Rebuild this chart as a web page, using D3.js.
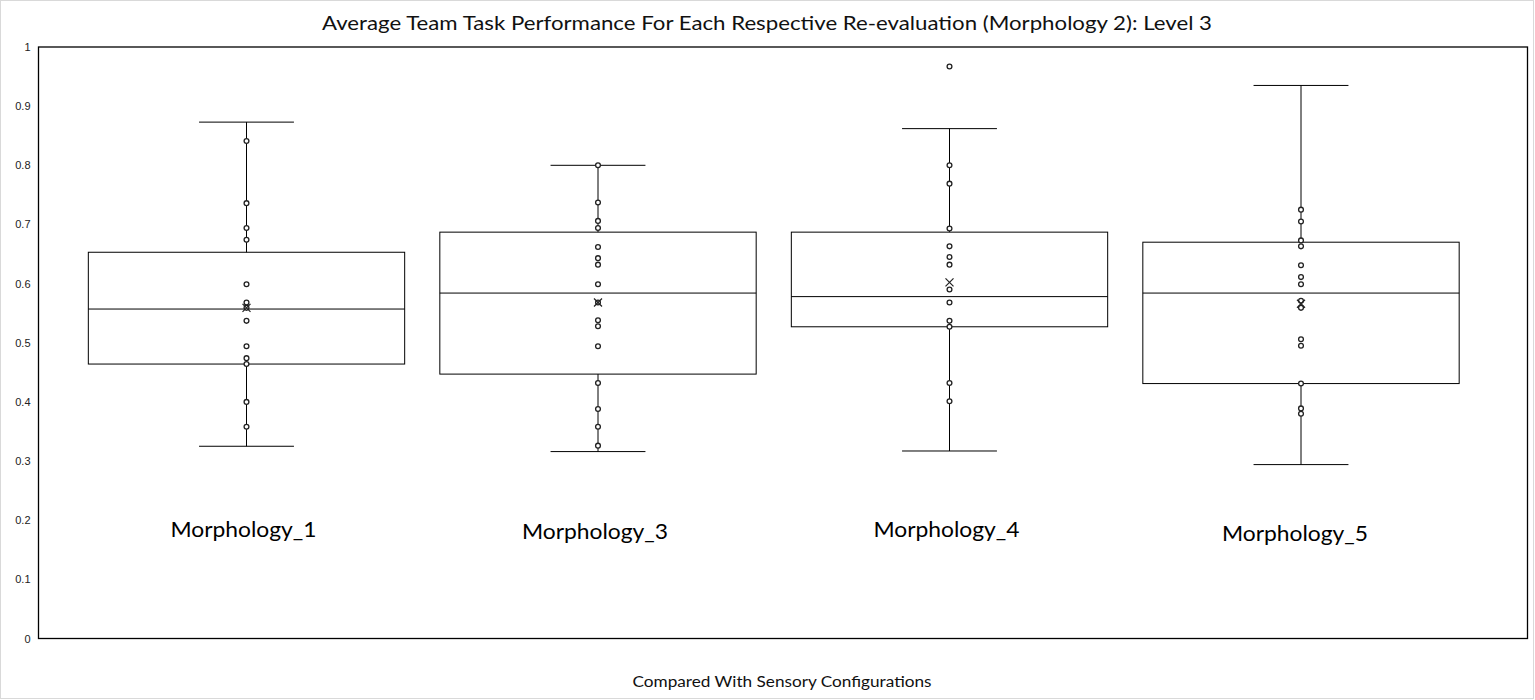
<!DOCTYPE html>
<html><head><meta charset="utf-8">
<script src="https://cdn.jsdelivr.net/npm/d3@7"></script>
<style>body{margin:0;background:#fff}svg{display:block}</style>
</head><body>
<svg id="c" width="1535" height="700"></svg>
<script>
const categories = ["Morphology_1","Morphology_3","Morphology_4","Morphology_5"];
const whiskerHigh = [0.873, 0.800, 0.862, 0.935];
const q3 = [0.653, 0.687, 0.687, 0.670];
const median = [0.557, 0.584, 0.578, 0.584];
const q1 = [0.464, 0.447, 0.527, 0.431];
const whiskerLow = [0.325, 0.316, 0.317, 0.294];
const means = [0.559, 0.568, 0.602, 0.566];
const points1 = [0.841, 0.736, 0.694, 0.674, 0.599, 0.568, 0.559, 0.537, 0.494, 0.474, 0.464, 0.400, 0.358];
const points3 = [0.800, 0.737, 0.706, 0.694, 0.662, 0.643, 0.632, 0.599, 0.568, 0.538, 0.528, 0.494, 0.432, 0.388, 0.358, 0.326];
const points4 = [0.967, 0.800, 0.769, 0.693, 0.663, 0.645, 0.632, 0.590, 0.568, 0.537, 0.527, 0.432, 0.401];
const points5 = [0.725, 0.705, 0.673, 0.663, 0.631, 0.611, 0.599, 0.571, 0.559, 0.506, 0.495, 0.431, 0.389, 0.380];
const pointSets = [points1, points3, points4, points5];
const yTicks = [0, 0.1, 0.2, 0.3, 0.4, 0.5, 0.6, 0.7, 0.8, 0.9, 1];
const yTickLabels = ["0","0.1","0.2","0.3","0.4","0.5","0.6","0.7","0.8","0.9","1"];
const labelOffsets = [0, 2, 0, 4];
const labelShift = [-3, -3, -3, -6];

const svg = d3.select("#c");
const plot = {left: 38.5, right: 1527.5, top: 47, bottom: 638.5};

svg.append("rect").attr("x",0.5).attr("y",0.5).attr("width",1533).attr("height",698)
  .attr("fill","#fff").attr("stroke","#d9d9d9");

const y = d3.scaleLinear().domain([0,1]).range([plot.bottom, plot.top]);
const x = d3.scaleBand().domain(categories).range([70.75, 1476.75]).paddingInner(0.1).paddingOuter(0.05);

svg.append("rect").attr("x",plot.left).attr("y",plot.top)
  .attr("width",plot.right-plot.left).attr("height",plot.bottom-plot.top)
  .attr("fill","none").attr("stroke","#000").attr("stroke-width",1.3);

const yAxis = d3.axisLeft(y).tickValues(yTicks).tickFormat((d,i)=>yTickLabels[i]).tickSize(0).tickPadding(8);
const ga = svg.append("g").attr("transform",`translate(${plot.left},0)`).call(yAxis);
ga.select(".domain").remove();
ga.selectAll("text").attr("font-family","Liberation Sans, Arial, sans-serif").attr("font-size",11).attr("fill","#222");

svg.append("text").attr("x",767).attr("y",30).attr("text-anchor","middle")
  .attr("font-family","Lato, sans-serif").attr("font-size",19).attr("fill","#111")
  .attr("textLength",890).attr("lengthAdjust","spacingAndGlyphs")
  .text("Average Team Task Performance For Each Respective Re-evaluation (Morphology 2):  Level 3");

svg.append("text").attr("x",782).attr("y",687).attr("text-anchor","middle")
  .attr("font-family","Lato, sans-serif").attr("font-size",15.5).attr("fill","#111")
  .attr("textLength",299).attr("lengthAdjust","spacingAndGlyphs")
  .text("Compared With Sensory Configurations");

categories.forEach((c,i)=>{
  const bw = x.bandwidth();
  const x0 = x(c), cx = x0 + bw/2;
  const capW = bw*0.3;
  const g = svg.append("g");
  g.append("line").attr("x1",cx).attr("x2",cx).attr("y1",y(whiskerHigh[i])).attr("y2",y(q3[i])).attr("stroke","#000");
  g.append("line").attr("x1",cx).attr("x2",cx).attr("y1",y(q1[i])).attr("y2",y(whiskerLow[i])).attr("stroke","#000");
  g.append("line").attr("x1",cx-capW/2).attr("x2",cx+capW/2).attr("y1",y(whiskerHigh[i])).attr("y2",y(whiskerHigh[i])).attr("stroke","#000");
  g.append("line").attr("x1",cx-capW/2).attr("x2",cx+capW/2).attr("y1",y(whiskerLow[i])).attr("y2",y(whiskerLow[i])).attr("stroke","#000");
  g.append("rect").attr("x",x0).attr("y",y(q3[i])).attr("width",bw).attr("height",y(q1[i])-y(q3[i]))
    .attr("fill","none").attr("stroke","#000");
  g.append("line").attr("x1",x0).attr("x2",x0+bw).attr("y1",y(median[i])).attr("y2",y(median[i])).attr("stroke","#000");
  g.selectAll("circle").data(pointSets[i]).join("circle")
    .attr("cx",cx).attr("cy",d=>y(d)).attr("r",2.4)
    .attr("fill","#fff").attr("stroke","#222").attr("stroke-width",1.3);
  const my = y(means[i]), s = 4;
  g.append("path").attr("d",`M${cx-s},${my-s}L${cx+s},${my+s}M${cx-s},${my+s}L${cx+s},${my-s}`)
    .attr("stroke","#222").attr("stroke-width",1.2);
  svg.append("text").attr("x",cx+labelShift[i]).attr("y",537+labelOffsets[i]).attr("text-anchor","middle")
    .attr("font-family","Lato, sans-serif").attr("font-size",21).attr("fill","#000")
    .attr("textLength",146).attr("lengthAdjust","spacingAndGlyphs")
    .text(c);
});
</script>
</body></html>
